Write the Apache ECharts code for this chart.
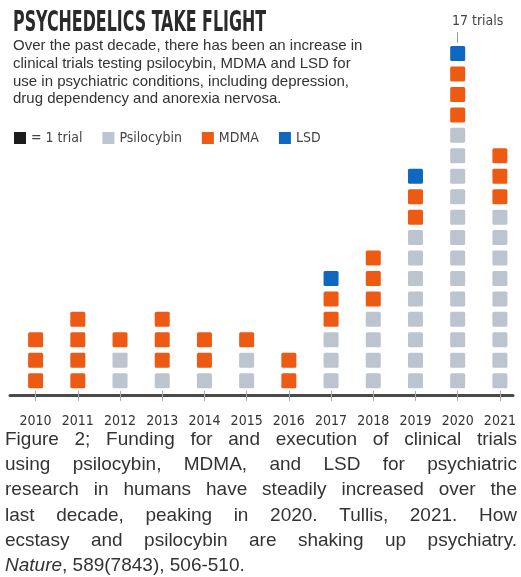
<!DOCTYPE html>
<html>
<head>
<meta charset="utf-8">
<title>Psychedelics take flight</title>
<style>
    * { margin: 0; padding: 0; }
    body { background: #fff; }
    #main { width: 521px; height: 577px; }
</style>
</head>
<body>
<div id="main"></div>
<script src="https://cdn.jsdelivr.net/npm/echarts@6/dist/echarts.min.js"></script>
<script>
    // trials per year, stacked bottom-up: psilocybin, MDMA, LSD
    var years = ['2010', '2011', '2012', '2013', '2014', '2015', '2016', '2017', '2018', '2019', '2020', '2021'];
    var psilocybin = [0, 0, 2, 1, 1, 2, 0, 3, 4, 8, 13, 9];
    var mdma = [3, 4, 1, 3, 2, 1, 2, 2, 3, 2, 3, 3];
    var lsd = [0, 0, 0, 0, 0, 0, 0, 1, 0, 1, 1, 0];

    var titleText = 'PSYCHEDELICS TAKE FLIGHT';
    var subText = [
        'Over the past decade, there has been an increase in',
        'clinical trials testing psilocybin, MDMA and LSD for',
        'use in psychiatric conditions, including depression,',
        'drug dependency and anorexia nervosa.'
    ];
    var captionLines = [
        'Figure 2; Funding for and execution of clinical trials',
        'using psilocybin, MDMA, and LSD for psychiatric',
        'research in humans have steadily increased over the',
        'last decade, peaking in 2020. Tullis, 2021. How',
        'ecstasy and psilocybin are shaking up psychiatry.'
    ];
    var captionLast = '{i|Nature}, 589(7843), 506-510.';

    var colors = { trial: '#1c1c1c', psi: '#bcc4cf', mdma: '#ec5a14', lsd: '#0f68bf' };
    var narrow = '"DejaVu Sans Condensed", "Liberation Sans Narrow", sans-serif';
    var sans = '"Liberation Sans", Arial, sans-serif';

    // base of each stack segment
    var psiData = [], mdmaData = [], lsdData = [];
    var peakIdx = 0, peakTotal = 0;
    for (var i = 0; i < years.length; i++) {
        psiData.push([i, 0, psilocybin[i]]);
        mdmaData.push([i, psilocybin[i], mdma[i]]);
        lsdData.push([i, psilocybin[i] + mdma[i], lsd[i]]);
        var t = psilocybin[i] + mdma[i] + lsd[i];
        if (t > peakTotal) { peakTotal = t; peakIdx = i; }
    }

    function renderSquares(params, api) {
        var x = api.value(0), base = api.value(1), n = api.value(2);
        var unit = api.size([0, 1])[1];
        var s = Math.round(unit * 0.73);
        var children = [];
        for (var k = 0; k < n; k++) {
            var p = api.coord([x, base + k + 0.5]);
            children.push({
                type: 'rect',
                shape: { x: p[0] - s / 2, y: p[1] - s / 2, width: s, height: s, r: 1.5 },
                style: { fill: api.visual('color') }
            });
        }
        return { type: 'group', children: children };
    }

    var graphics = [];
    // headline, squeezed to look like the condensed display face
    graphics.push({
        type: 'text', x: 13, y: 10, scaleX: 0.63, silent: true,
        style: { text: titleText, font: 'bold 28px ' + narrow, fill: '#2a2a2a', verticalAlign: 'top' }
    });
    graphics.push({
        type: 'text', x: 13, y: 37.5, silent: true,
        style: { text: subText.join('\n'), font: '15px ' + sans, lineHeight: 17.6, fill: '#333', verticalAlign: 'top' }
    });

    // justified caption, one text element per word
    var ctx = document.createElement('canvas').getContext('2d');
    var capFont = '19px ' + sans;
    ctx.font = capFont;
    var capLeft = 5, capRight = 517, capTop = 440, capStep = 25.1;
    captionLines.forEach(function(line, li) {
        var words = line.split(' ');
        var widths = words.map(function(w) { return ctx.measureText(w).width; });
        var total = widths.reduce(function(a, b) { return a + b; }, 0);
        var gap = (capRight - capLeft - total) / (words.length - 1);
        var x = capLeft;
        words.forEach(function(w, wi) {
            graphics.push({
                type: 'text', x: x, y: capTop + li * capStep, silent: true,
                style: { text: w, font: capFont, fill: '#333', verticalAlign: 'middle' }
            });
            x += widths[wi] + gap;
        });
    });
    graphics.push({
        type: 'text', x: capLeft, y: capTop + captionLines.length * capStep, silent: true,
        style: {
            text: captionLast, font: capFont, fill: '#333', verticalAlign: 'middle',
            rich: { i: { fontStyle: 'italic', fontSize: 19, fontFamily: sans, fill: '#333' } }
        }
    });

    var myChart = echarts.init(document.getElementById('main'));
    var option = {
        animation: false,
        backgroundColor: '#fff',
        legend: {
            data: ['= 1 trial', 'Psilocybin', 'MDMA', 'LSD'],
            left: 9,
            top: 126,
            icon: 'rect',
            itemWidth: 12,
            itemHeight: 12,
            itemGap: 20,
            selectedMode: false,
            textStyle: { fontFamily: narrow, fontSize: 14, color: '#444' }
        },
        grid: [
            { left: 14.5, right: -6, top: 27, bottom: 182 },
            { left: 10, right: 8, top: 27, bottom: 182 }
        ],
        xAxis: [
            {
                type: 'category',
                data: years,
                gridIndex: 0,
                axisLine: { show: false },
                axisTick: { show: true, alignWithLabel: true, interval: 0, length: 10, lineStyle: { color: '#aaa', width: 1 } },
                axisLabel: { interval: 0, margin: 19, fontFamily: narrow, fontSize: 14, color: '#333' },
                splitLine: { show: false }
            },
            {
                type: 'value',
                gridIndex: 1,
                min: 0,
                max: 1,
                axisLine: { show: true, lineStyle: { color: '#4a4a4a', width: 3 } },
                axisTick: { show: false },
                axisLabel: { show: false },
                splitLine: { show: false }
            }
        ],
        yAxis: [
            { type: 'value', gridIndex: 0, min: -0.2, max: 17.8, show: false },
            { type: 'value', gridIndex: 1, min: 0, max: 1, show: false }
        ],
        series: [
            { name: '= 1 trial', type: 'custom', renderItem: renderSquares, itemStyle: { color: colors.trial }, data: [] },
            { name: 'Psilocybin', type: 'custom', renderItem: renderSquares, itemStyle: { color: colors.psi },
              encode: { x: 0, y: 1 }, data: psiData },
            { name: 'MDMA', type: 'custom', renderItem: renderSquares, itemStyle: { color: colors.mdma },
              encode: { x: 0, y: 1 }, data: mdmaData },
            { name: 'LSD', type: 'custom', renderItem: renderSquares, itemStyle: { color: colors.lsd },
              encode: { x: 0, y: 1 }, data: lsdData,
              markLine: {
                  silent: true,
                  symbol: ['none', 'none'],
                  lineStyle: { color: '#999', width: 1, type: 'solid' },
                  label: {
                      show: true, position: 'end', distance: 4,
                      formatter: peakTotal + ' trials',
                      fontFamily: narrow, fontSize: 14, color: '#444',
                      padding: [0, 0, 0, 40]
                  },
                  data: [[
                      { coord: [years[peakIdx], peakTotal + 0.02] },
                      { coord: [years[peakIdx], peakTotal + 0.56] }
                  ]]
              }
            }
        ],
        graphic: graphics
    };
    myChart.setOption(option);
</script>
</body>
</html>
